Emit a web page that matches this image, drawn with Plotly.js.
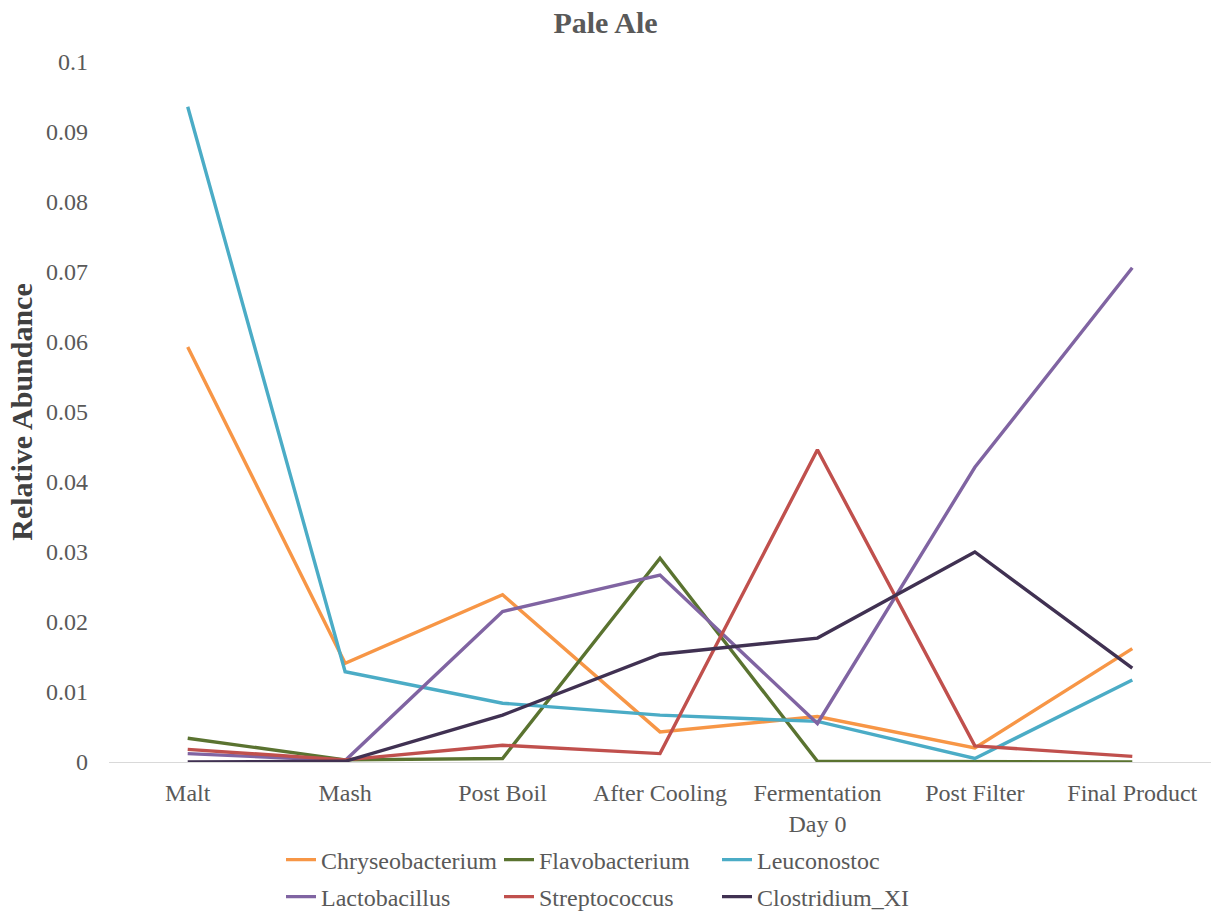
<!DOCTYPE html>
<html>
<head>
<meta charset="utf-8">
<script src="https://cdn.plot.ly/plotly-3.0.1.min.js"></script>
<style>
  html, body { margin: 0; padding: 0; background: #ffffff; }
  #chart { width: 1211px; height: 917px; }
</style>
</head>
<body>
<div id="chart"></div>
<script>
// Brewing stages along the process
const stages = ["Malt", "Mash", "Post Boil", "After Cooling", "Fermentation<br>Day 0", "Post Filter", "Final Product"];

// Relative abundance of each genus at every stage
const chryseobacterium = [0.0593, 0.0141, 0.0239, 0.0043, 0.0065, 0.0020, 0.0162];
const flavobacterium   = [0.0034, 0.0003, 0.0005, 0.0291, 0.0001, 0.0000, 0.0000];
const leuconostoc      = [0.0936, 0.0129, 0.0084, 0.0067, 0.0058, 0.0005, 0.0117];
const lactobacillus    = [0.0012, 0.0002, 0.0215, 0.0267, 0.0055, 0.0421, 0.0706];
const streptococcus    = [0.0018, 0.0003, 0.0024, 0.0012, 0.0446, 0.0023, 0.0008];
const clostridiumXI    = [0.0000, 0.0001, 0.0067, 0.0154, 0.0177, 0.0300, 0.0134];

const yTicks = [0, 0.01, 0.02, 0.03, 0.04, 0.05, 0.06, 0.07, 0.08, 0.09, 0.1];
const yTickText = ["0", "0.01", "0.02", "0.03", "0.04", "0.05", "0.06", "0.07", "0.08", "0.09", "0.1"];

// First three genera go in the upper legend row, the rest in the lower one
const series = [
  { name: "Chryseobacterium", y: chryseobacterium, color: "#F79646", legend: "legend" },
  { name: "Flavobacterium",   y: flavobacterium,   color: "#5A7330", legend: "legend" },
  { name: "Leuconostoc",      y: leuconostoc,      color: "#4BACC6", legend: "legend" },
  { name: "Lactobacillus",    y: lactobacillus,    color: "#8064A2", legend: "legend2" },
  { name: "Streptococcus",    y: streptococcus,    color: "#C0504D", legend: "legend2" },
  { name: "Clostridium_XI",   y: clostridiumXI,    color: "#403152", legend: "legend2" }
];

const serif = "'Liberation Serif', 'Times New Roman', serif";
const tickGray = "#595959";

const traces = series.map(s => ({
  type: "scatter",
  mode: "lines",
  name: s.name,
  legend: s.legend,
  x: stages,
  y: s.y,
  line: { color: s.color, width: 3.4 }
}));

function legendRow(centerY) {
  return {
    orientation: "h",
    x: 281 / 1211, xanchor: "left", xref: "container",
    y: 1 - centerY / 917, yanchor: "middle", yref: "container",
    entrywidth: 173,
    entrywidthmode: "pixels",
    itemwidth: 30,
    font: { family: serif, size: 24, color: tickGray },
    bgcolor: "rgba(0,0,0,0)"
  };
}

const layout = {
  width: 1211,
  height: 917,
  paper_bgcolor: "#ffffff",
  plot_bgcolor: "#ffffff",
  margin: { l: 109, r: 0, t: 62, b: 155 },
  font: { family: serif, color: tickGray, size: 24 },
  title: {
    text: "<b>Pale Ale</b>",
    font: { family: serif, size: 30, color: tickGray },
    x: 0.5, xanchor: "center", xref: "container",
    y: 1 - 22 / 917, yanchor: "middle", yref: "container"
  },
  xaxis: {
    type: "category",
    showgrid: false,
    zeroline: false,
    showline: true,
    linecolor: "#D9D9D9",
    linewidth: 1,
    ticks: "",
    ticklabelstandoff: 9,
    tickfont: { family: serif, size: 24, color: tickGray },
    range: [-0.5, 6.5]
  },
  yaxis: {
    range: [0, 0.1],
    tickvals: yTicks,
    ticktext: yTickText,
    showgrid: false,
    zeroline: false,
    showline: false,
    ticks: "",
    ticklabelstandoff: 20,
    tickfont: { family: serif, size: 24, color: tickGray },
    title: {
      text: "<b>Relative Abundance</b>",
      font: { family: serif, size: 30, color: "#404040" },
      standoff: 4
    }
  },
  showlegend: true,
  legend: legendRow(860),
  legend2: legendRow(897)
};

Plotly.newPlot("chart", traces, layout, { displayModeBar: false, responsive: false });
</script>
</body>
</html>
